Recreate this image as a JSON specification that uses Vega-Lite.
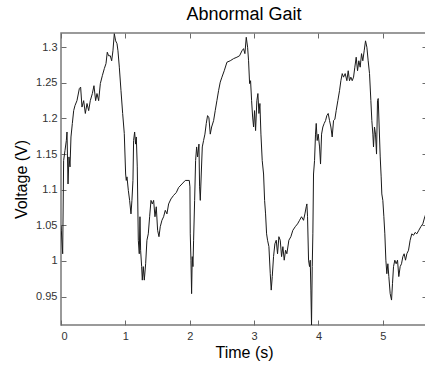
{
  "$schema": "https://vega.github.io/schema/vega-lite/v6.json",
  "autosize": {"type": "none"},
  "padding": {"left": 61, "top": 33, "right": 0, "bottom": 41},
  "width": 366,
  "height": 292,
  "background": "white",
  "title": {
    "text": "Abnormal Gait",
    "font": "Liberation Sans",
    "fontSize": 18,
    "fontWeight": "normal",
    "color": "#000000",
    "offset": 9
  },
  "config": {
    "view": {"stroke": "#7a7a7a", "strokeWidth": 1.5},
    "axis": {
      "domain": false,
      "grid": false,
      "tickColor": "#6a6a6a",
      "tickSize": -5,
      "tickWidth": 1,
      "labelFont": "Liberation Sans",
      "labelFontSize": 11,
      "labelColor": "#333333",
      "titleFont": "Liberation Sans",
      "titleFontSize": 16,
      "titleFontWeight": "normal",
      "titleColor": "#000000"
    }
  },
  "data": {
    "values": [
      {"t": 0.0, "v": 1.05}, {"t": 0.005, "v": 1.043}, {"t": 0.026, "v": 1.01}, {"t": 0.041, "v": 1.141},
      {"t": 0.062, "v": 1.155}, {"t": 0.083, "v": 1.169}, {"t": 0.093, "v": 1.181}, {"t": 0.109, "v": 1.108},
      {"t": 0.124, "v": 1.146}, {"t": 0.14, "v": 1.132}, {"t": 0.155, "v": 1.174}, {"t": 0.176, "v": 1.193},
      {"t": 0.197, "v": 1.211}, {"t": 0.217, "v": 1.218}, {"t": 0.248, "v": 1.225}, {"t": 0.285, "v": 1.242},
      {"t": 0.305, "v": 1.244}, {"t": 0.326, "v": 1.216}, {"t": 0.352, "v": 1.225}, {"t": 0.378, "v": 1.207},
      {"t": 0.404, "v": 1.221}, {"t": 0.43, "v": 1.211}, {"t": 0.455, "v": 1.225}, {"t": 0.487, "v": 1.235},
      {"t": 0.512, "v": 1.246}, {"t": 0.538, "v": 1.225}, {"t": 0.559, "v": 1.235}, {"t": 0.585, "v": 1.225},
      {"t": 0.611, "v": 1.249}, {"t": 0.642, "v": 1.26}, {"t": 0.673, "v": 1.27}, {"t": 0.699, "v": 1.277},
      {"t": 0.719, "v": 1.293}, {"t": 0.74, "v": 1.288}, {"t": 0.766, "v": 1.288}, {"t": 0.787, "v": 1.281},
      {"t": 0.807, "v": 1.295}, {"t": 0.828, "v": 1.319}, {"t": 0.849, "v": 1.309}, {"t": 0.87, "v": 1.305},
      {"t": 0.885, "v": 1.295}, {"t": 0.906, "v": 1.272}, {"t": 0.932, "v": 1.239}, {"t": 0.958, "v": 1.207},
      {"t": 0.983, "v": 1.179}, {"t": 1.004, "v": 1.122}, {"t": 1.014, "v": 1.113}, {"t": 1.025, "v": 1.118},
      {"t": 1.046, "v": 1.099}, {"t": 1.066, "v": 1.085}, {"t": 1.087, "v": 1.066}, {"t": 1.102, "v": 1.085},
      {"t": 1.118, "v": 1.113}, {"t": 1.128, "v": 1.169}, {"t": 1.144, "v": 1.181}, {"t": 1.159, "v": 1.164},
      {"t": 1.17, "v": 1.174}, {"t": 1.185, "v": 1.132}, {"t": 1.201, "v": 1.029}, {"t": 1.216, "v": 1.01},
      {"t": 1.227, "v": 1.062}, {"t": 1.237, "v": 1.015}, {"t": 1.253, "v": 0.992}, {"t": 1.263, "v": 0.973},
      {"t": 1.278, "v": 0.992}, {"t": 1.294, "v": 0.973}, {"t": 1.315, "v": 0.996}, {"t": 1.335, "v": 1.029},
      {"t": 1.356, "v": 1.038}, {"t": 1.377, "v": 1.062}, {"t": 1.398, "v": 1.085}, {"t": 1.418, "v": 1.08},
      {"t": 1.439, "v": 1.085}, {"t": 1.46, "v": 1.062}, {"t": 1.48, "v": 1.076}, {"t": 1.501, "v": 1.043},
      {"t": 1.522, "v": 1.034}, {"t": 1.542, "v": 1.048}, {"t": 1.568, "v": 1.057}, {"t": 1.594, "v": 1.062},
      {"t": 1.62, "v": 1.071}, {"t": 1.646, "v": 1.066}, {"t": 1.672, "v": 1.08}, {"t": 1.708, "v": 1.087},
      {"t": 1.749, "v": 1.092}, {"t": 1.791, "v": 1.096}, {"t": 1.827, "v": 1.103}, {"t": 1.879, "v": 1.108},
      {"t": 1.931, "v": 1.113}, {"t": 1.993, "v": 1.113}, {"t": 2.003, "v": 1.104}, {"t": 2.008, "v": 1.038},
      {"t": 2.019, "v": 1.001}, {"t": 2.029, "v": 0.954}, {"t": 2.039, "v": 1.006}, {"t": 2.05, "v": 0.992},
      {"t": 2.06, "v": 1.029}, {"t": 2.076, "v": 1.085}, {"t": 2.091, "v": 1.141}, {"t": 2.107, "v": 1.16},
      {"t": 2.122, "v": 1.146}, {"t": 2.143, "v": 1.164}, {"t": 2.153, "v": 1.104}, {"t": 2.164, "v": 1.085},
      {"t": 2.179, "v": 1.122}, {"t": 2.195, "v": 1.16}, {"t": 2.215, "v": 1.169}, {"t": 2.236, "v": 1.178},
      {"t": 2.257, "v": 1.193}, {"t": 2.277, "v": 1.204}, {"t": 2.298, "v": 1.201}, {"t": 2.319, "v": 1.178},
      {"t": 2.34, "v": 1.188}, {"t": 2.371, "v": 1.197}, {"t": 2.396, "v": 1.211}, {"t": 2.422, "v": 1.225},
      {"t": 2.448, "v": 1.239}, {"t": 2.474, "v": 1.251}, {"t": 2.5, "v": 1.258}, {"t": 2.536, "v": 1.267},
      {"t": 2.578, "v": 1.279}, {"t": 2.629, "v": 1.281}, {"t": 2.681, "v": 1.284}, {"t": 2.733, "v": 1.286},
      {"t": 2.774, "v": 1.288}, {"t": 2.811, "v": 1.295}, {"t": 2.836, "v": 1.298}, {"t": 2.857, "v": 1.291},
      {"t": 2.878, "v": 1.314}, {"t": 2.899, "v": 1.3}, {"t": 2.914, "v": 1.281}, {"t": 2.93, "v": 1.249},
      {"t": 2.945, "v": 1.253}, {"t": 2.961, "v": 1.225}, {"t": 2.977, "v": 1.202}, {"t": 2.992, "v": 1.188},
      {"t": 3.007, "v": 1.211}, {"t": 3.023, "v": 1.183}, {"t": 3.043, "v": 1.225}, {"t": 3.059, "v": 1.235},
      {"t": 3.075, "v": 1.207}, {"t": 3.09, "v": 1.221}, {"t": 3.106, "v": 1.178}, {"t": 3.126, "v": 1.141},
      {"t": 3.147, "v": 1.122}, {"t": 3.163, "v": 1.085}, {"t": 3.178, "v": 1.066}, {"t": 3.194, "v": 1.038},
      {"t": 3.209, "v": 1.029}, {"t": 3.23, "v": 1.02}, {"t": 3.251, "v": 0.982}, {"t": 3.266, "v": 0.959},
      {"t": 3.282, "v": 0.978}, {"t": 3.302, "v": 1.006}, {"t": 3.323, "v": 1.024}, {"t": 3.344, "v": 1.029},
      {"t": 3.364, "v": 1.01}, {"t": 3.385, "v": 1.034}, {"t": 3.406, "v": 1.029}, {"t": 3.427, "v": 1.006},
      {"t": 3.447, "v": 1.02}, {"t": 3.468, "v": 1.001}, {"t": 3.489, "v": 1.015}, {"t": 3.509, "v": 1.01},
      {"t": 3.54, "v": 1.029}, {"t": 3.571, "v": 1.034}, {"t": 3.602, "v": 1.043}, {"t": 3.639, "v": 1.048},
      {"t": 3.675, "v": 1.052}, {"t": 3.706, "v": 1.057}, {"t": 3.737, "v": 1.062}, {"t": 3.768, "v": 1.057},
      {"t": 3.789, "v": 1.066}, {"t": 3.81, "v": 1.076}, {"t": 3.82, "v": 1.08}, {"t": 3.83, "v": 1.062},
      {"t": 3.846, "v": 1.001}, {"t": 3.861, "v": 0.992}, {"t": 3.872, "v": 1.001}, {"t": 3.882, "v": 0.959},
      {"t": 3.892, "v": 0.91}, {"t": 3.903, "v": 0.992}, {"t": 3.913, "v": 1.038}, {"t": 3.923, "v": 1.122},
      {"t": 3.939, "v": 1.141}, {"t": 3.954, "v": 1.178}, {"t": 3.965, "v": 1.193}, {"t": 3.98, "v": 1.169},
      {"t": 3.996, "v": 1.178}, {"t": 4.017, "v": 1.16}, {"t": 4.032, "v": 1.136}, {"t": 4.048, "v": 1.178},
      {"t": 4.068, "v": 1.188}, {"t": 4.089, "v": 1.193}, {"t": 4.11, "v": 1.197}, {"t": 4.13, "v": 1.204},
      {"t": 4.151, "v": 1.207}, {"t": 4.172, "v": 1.197}, {"t": 4.193, "v": 1.188}, {"t": 4.213, "v": 1.174},
      {"t": 4.234, "v": 1.197}, {"t": 4.255, "v": 1.199}, {"t": 4.275, "v": 1.211}, {"t": 4.301, "v": 1.225},
      {"t": 4.327, "v": 1.239}, {"t": 4.348, "v": 1.253}, {"t": 4.369, "v": 1.263}, {"t": 4.389, "v": 1.258},
      {"t": 4.415, "v": 1.263}, {"t": 4.441, "v": 1.253}, {"t": 4.462, "v": 1.267}, {"t": 4.482, "v": 1.253},
      {"t": 4.503, "v": 1.258}, {"t": 4.524, "v": 1.253}, {"t": 4.545, "v": 1.258}, {"t": 4.565, "v": 1.272},
      {"t": 4.586, "v": 1.286}, {"t": 4.607, "v": 1.267}, {"t": 4.627, "v": 1.281}, {"t": 4.648, "v": 1.272},
      {"t": 4.669, "v": 1.291}, {"t": 4.689, "v": 1.281}, {"t": 4.71, "v": 1.295}, {"t": 4.731, "v": 1.309},
      {"t": 4.752, "v": 1.3}, {"t": 4.772, "v": 1.281}, {"t": 4.793, "v": 1.263}, {"t": 4.814, "v": 1.225},
      {"t": 4.829, "v": 1.197}, {"t": 4.845, "v": 1.178}, {"t": 4.855, "v": 1.16}, {"t": 4.87, "v": 1.188},
      {"t": 4.886, "v": 1.178}, {"t": 4.902, "v": 1.15}, {"t": 4.917, "v": 1.225}, {"t": 4.928, "v": 1.228},
      {"t": 4.943, "v": 1.188}, {"t": 4.959, "v": 1.146}, {"t": 4.974, "v": 1.118}, {"t": 4.984, "v": 1.094},
      {"t": 5.0, "v": 1.085}, {"t": 5.016, "v": 1.062}, {"t": 5.031, "v": 1.038}, {"t": 5.047, "v": 1.001},
      {"t": 5.062, "v": 0.982}, {"t": 5.078, "v": 0.996}, {"t": 5.093, "v": 0.978}, {"t": 5.114, "v": 0.954},
      {"t": 5.135, "v": 0.945}, {"t": 5.15, "v": 0.968}, {"t": 5.166, "v": 0.992}, {"t": 5.186, "v": 1.001},
      {"t": 5.207, "v": 0.996}, {"t": 5.228, "v": 1.001}, {"t": 5.248, "v": 0.978}, {"t": 5.269, "v": 0.992},
      {"t": 5.29, "v": 0.996}, {"t": 5.311, "v": 1.006}, {"t": 5.331, "v": 1.01}, {"t": 5.352, "v": 1.001},
      {"t": 5.373, "v": 1.01}, {"t": 5.399, "v": 1.015}, {"t": 5.424, "v": 1.029}, {"t": 5.45, "v": 1.038},
      {"t": 5.476, "v": 1.036}, {"t": 5.502, "v": 1.04}, {"t": 5.528, "v": 1.038}, {"t": 5.559, "v": 1.043},
      {"t": 5.59, "v": 1.048}, {"t": 5.621, "v": 1.052}, {"t": 5.652, "v": 1.062}, {"t": 5.686, "v": 1.07}
    ]
  },
  "layer": [
    {
      "mark": {"type": "line", "color": "#1a1a1a", "strokeWidth": 1, "clip": true},
      "encoding": {
        "x": {
          "field": "t",
          "type": "quantitative",
          "scale": {"domain": [0, 5.686], "nice": false, "zero": false},
          "axis": {"values": [0, 1, 2, 3, 4, 5], "format": "d", "labelPadding": 10, "title": "Time (s)", "titlePadding": 3}
        },
        "y": {
          "field": "v",
          "type": "quantitative",
          "scale": {"domain": [0.91, 1.32], "nice": false, "zero": false},
          "axis": {"values": [0.95, 1, 1.05, 1.1, 1.15, 1.2, 1.25, 1.3], "format": "~g", "labelPadding": 9, "title": "Voltage (V)", "titlePadding": 6}
        }
      }
    },
    {
      "mark": {"type": "line", "opacity": 0},
      "encoding": {
        "x": {
          "field": "t",
          "type": "quantitative",
          "axis": {"orient": "top", "values": [0, 1, 2, 3, 4, 5], "labels": false, "title": null}
        },
        "y": {
          "field": "v",
          "type": "quantitative",
          "axis": {"orient": "right", "values": [0.95, 1, 1.05, 1.1, 1.15, 1.2, 1.25, 1.3], "labels": false, "title": null}
        }
      }
    }
  ],
  "resolve": {"axis": {"x": "independent", "y": "independent"}}
}
